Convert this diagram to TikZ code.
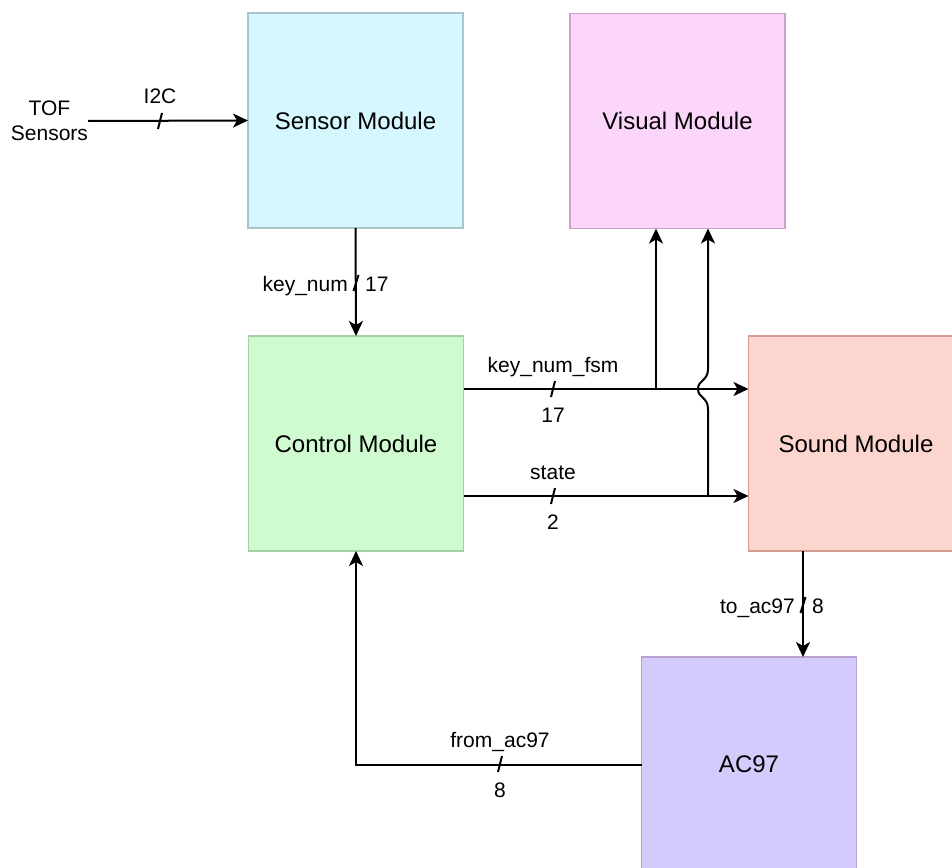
\documentclass[tikz,border=0pt]{standalone}
\usepackage{fontspec}
\setmainfont{Liberation Sans}
\usetikzlibrary{arrows.meta,calc}
\definecolor{senF}{HTML}{D5F7FD}\definecolor{senD}{HTML}{A7C6CB}
\definecolor{visF}{HTML}{FCD5FA}\definecolor{visD}{HTML}{C9A1C9}
\definecolor{conF}{HTML}{D0FAD0}\definecolor{conD}{HTML}{A5CFA5}
\definecolor{souF}{HTML}{FBD5CE}\definecolor{souD}{HTML}{D49B93}
\definecolor{acF}{HTML}{D4CBFC}\definecolor{acD}{HTML}{B9A0CF}
\begin{document}
\begin{tikzpicture}[x=1pt,y=-1pt,
  modbox/.style={minimum width=215pt,minimum height=215pt,line width=1.5pt,outer sep=0pt,inner sep=0pt,font=\fontsize{24}{28}\selectfont},
  lbl/.style={anchor=base,inner sep=0pt,font=\fontsize{21}{25}\selectfont},
  conn/.style={line width=2pt,-{Stealth[length=15pt,width=14pt,inset=4pt]}},
  tick/.style={line width=2pt}]
\useasboundingbox (0,0) rectangle (952,867);
\clip (0,0) rectangle (952,867);
\node[modbox,fill=senF,draw=senD] (sensor) at (355.5,120.5) {Sensor Module};
\node[modbox,fill=visF,draw=visD] (visual) at (677.5,121) {Visual Module};
\node[modbox,fill=conF,draw=conD] (control) at (356,443.5) {Control Module};
\node[modbox,fill=souF,draw=souD] (sound) at (856,443.5) {Sound Module};
\node[modbox,fill=acF,draw=acD] (ac97) at (749,764.5) {AC97};
% TOF sensors input
\node[inner sep=0pt,outer sep=0pt,align=center,font=\fontsize{21}{25}\selectfont,anchor=east] (tof) at (88,121) {TOF\\Sensors};
\draw[conn] (tof.east) -- (sensor.west);
\draw[tick] (158,129) -- (162,113);
\node[lbl] (i2c) at (160,103) {I2C};
% key_num
\draw[conn] (sensor.south) -- (control.north);
\draw[tick] (353.5,291) -- (358.5,275);
\node[lbl,anchor=base east] (knl) at (348,291) {key\_num};
\node[lbl,anchor=base west] (knr) at (365,291) {17};
% key_num_fsm
\coordinate (f1) at ([yshift=54.5pt]control.east);
\coordinate (f2) at ([yshift=54.5pt]sound.west);
\draw[conn] (f1) -- (f2);
\draw[tick] (551,397) -- (555,381);
\node[lbl] (fsml) at (553,372) {key\_num\_fsm};
\node[lbl] (fsmn) at (553,422) {17};
\coordinate (j1) at (656,389);
\draw[conn] (j1) -- (j1 |- visual.south);
% state
\coordinate (s1) at ([yshift=-52.5pt]control.east);
\coordinate (s2) at ([yshift=-52.5pt]sound.west);
\draw[conn] (s1) -- (s2);
\draw[tick] (551,504) -- (555,488);
\node[lbl] (stl) at (553,479) {state};
\node[lbl] (stn) at (553,529) {2};
\coordinate (j2) at (708,496);
\coordinate (h1) at (708,409);
\coordinate (h2) at (708,369);
\draw[conn] (j2) -- (h1) .. controls (708,397) and (698,398) .. (698,389)
  .. controls (698,380) and (708,381) .. (h2) -- (h2 |- visual.south);
% to_ac97
\coordinate (k) at (803,600);
\draw[conn] (sound.south -| k) -- (ac97.north -| k);
\draw[tick] (800.5,613) -- (805.5,597);
\node[lbl,anchor=base east] (tal) at (795,613) {to\_ac97};
\node[lbl,anchor=base west] (tar) at (812,613) {8};
% from_ac97
\draw[conn] (ac97.west) -| (control.south);
\draw[tick] (498,772) -- (502,756);
\node[lbl] (fal) at (500,747) {from\_ac97};
\node[lbl] (fan) at (500,797) {8};
\end{tikzpicture}
\end{document}
